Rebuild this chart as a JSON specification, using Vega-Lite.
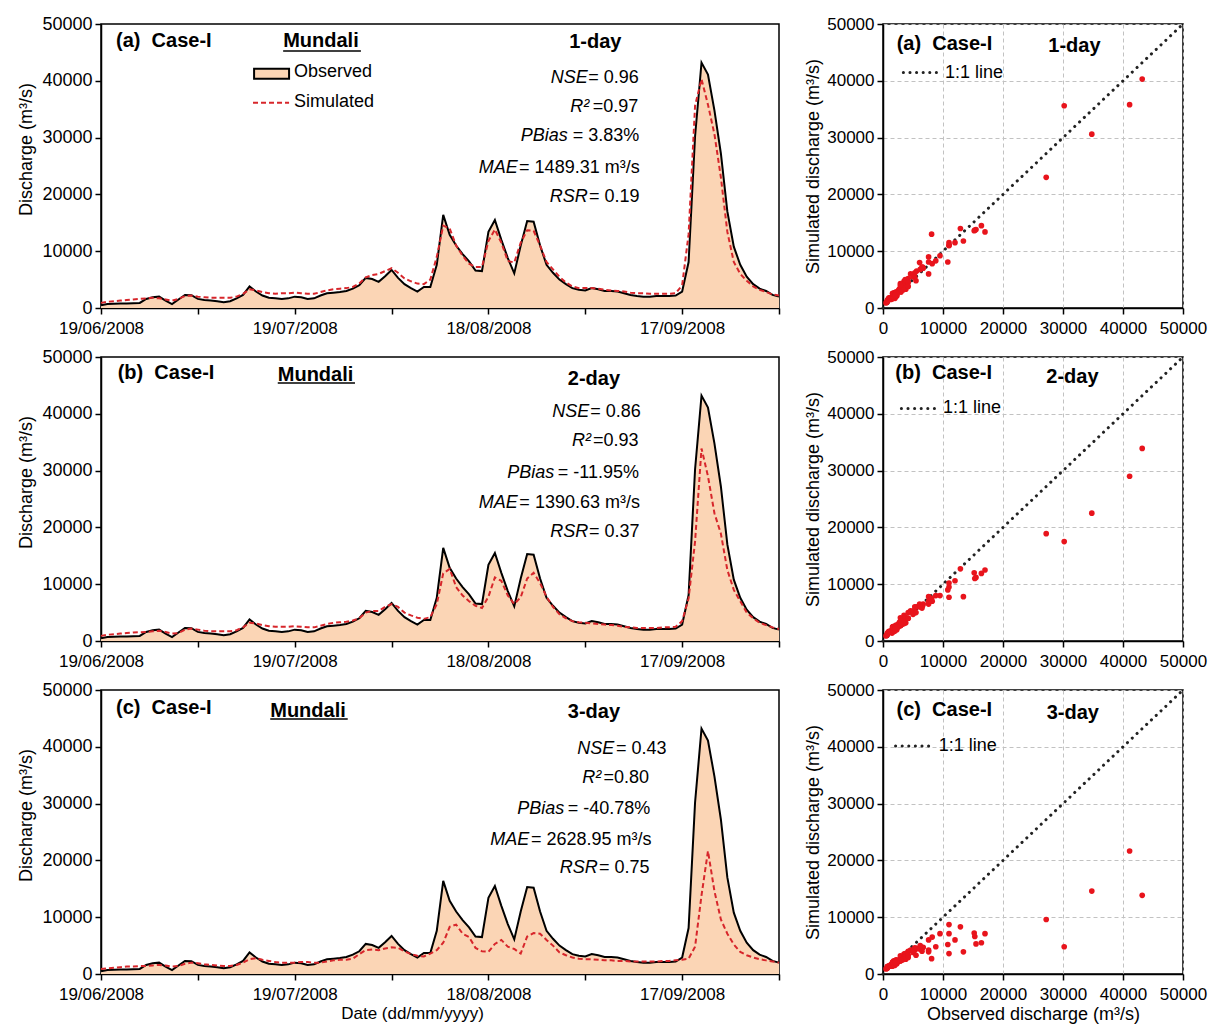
{
"$schema": "https://vega.github.io/schema/vega-lite/v6.json",
"padding": {"left": 17, "top": 14, "right": 2, "bottom": 2},
"background": "white",
"config": {
  "font": "Liberation Sans",
  "view": {"stroke": "black", "strokeWidth": 1.5},
  "axis": {"labelFont": "Liberation Sans", "titleFont": "Liberation Sans", "labelColor": "black", "titleColor": "black", "domainColor": "black", "tickColor": "black", "domainWidth": 1.5, "tickWidth": 1.5, "tickSize": 6, "labelFontSize": 17, "titleFontSize": 18, "titleFontWeight": "normal", "grid": false, "labelPadding": 3, "labelOverlap": false, "labelFlush": false},
  "axisX": {"labelPadding": 6},
  "text": {"font": "Liberation Sans", "color": "black"}
},
"datasets": {
  "series": [
    {"date":"2008-06-19","obs":500,"s1":900,"s2":900,"s3":900},
    {"date":"2008-06-20","obs":700,"s1":1100,"s2":1100,"s3":1000},
    {"date":"2008-06-21","obs":750,"s1":1200,"s2":1200,"s3":1100},
    {"date":"2008-06-22","obs":800,"s1":1300,"s2":1300,"s3":1200},
    {"date":"2008-06-23","obs":800,"s1":1400,"s2":1400,"s3":1300},
    {"date":"2008-06-24","obs":850,"s1":1500,"s2":1500,"s3":1300},
    {"date":"2008-06-25","obs":900,"s1":1600,"s2":1550,"s3":1400},
    {"date":"2008-06-26","obs":1600,"s1":1700,"s2":1600,"s3":1400},
    {"date":"2008-06-27","obs":1900,"s1":1800,"s2":1700,"s3":1500},
    {"date":"2008-06-28","obs":2000,"s1":1700,"s2":1800,"s3":1600},
    {"date":"2008-06-29","obs":1300,"s1":1500,"s2":1600,"s3":1500},
    {"date":"2008-06-30","obs":700,"s1":1300,"s2":1300,"s3":1300},
    {"date":"2008-07-01","obs":1500,"s1":1600,"s2":1400,"s3":1400},
    {"date":"2008-07-02","obs":2300,"s1":2100,"s2":2000,"s3":1800},
    {"date":"2008-07-03","obs":2250,"s1":2200,"s2":2200,"s3":2000},
    {"date":"2008-07-04","obs":1600,"s1":2000,"s2":2000,"s3":1900},
    {"date":"2008-07-05","obs":1400,"s1":1900,"s2":1800,"s3":1700},
    {"date":"2008-07-06","obs":1300,"s1":1800,"s2":1700,"s3":1600},
    {"date":"2008-07-07","obs":1200,"s1":1800,"s2":1700,"s3":1500},
    {"date":"2008-07-08","obs":1000,"s1":1800,"s2":1700,"s3":1400},
    {"date":"2008-07-09","obs":1200,"s1":1800,"s2":1700,"s3":1400},
    {"date":"2008-07-10","obs":1700,"s1":2000,"s2":1900,"s3":1600},
    {"date":"2008-07-11","obs":2300,"s1":2500,"s2":2400,"s3":2000},
    {"date":"2008-07-12","obs":3800,"s1":3300,"s2":3200,"s3":2600},
    {"date":"2008-07-13","obs":2900,"s1":3100,"s2":3100,"s3":2800},
    {"date":"2008-07-14","obs":2200,"s1":2800,"s2":2800,"s3":2500},
    {"date":"2008-07-15","obs":1800,"s1":2600,"s2":2600,"s3":2300},
    {"date":"2008-07-16","obs":1700,"s1":2500,"s2":2500,"s3":2100},
    {"date":"2008-07-17","obs":1600,"s1":2600,"s2":2500,"s3":2000},
    {"date":"2008-07-18","obs":1700,"s1":2600,"s2":2500,"s3":2000},
    {"date":"2008-07-19","obs":2000,"s1":2700,"s2":2600,"s3":2000},
    {"date":"2008-07-20","obs":1900,"s1":2600,"s2":2500,"s3":2100},
    {"date":"2008-07-21","obs":1600,"s1":2500,"s2":2400,"s3":2100},
    {"date":"2008-07-22","obs":1700,"s1":2500,"s2":2400,"s3":2000},
    {"date":"2008-07-23","obs":2200,"s1":2800,"s2":2700,"s3":2000},
    {"date":"2008-07-24","obs":2600,"s1":3100,"s2":3000,"s3":2200},
    {"date":"2008-07-25","obs":2700,"s1":3300,"s2":3200,"s3":2400},
    {"date":"2008-07-26","obs":2800,"s1":3400,"s2":3300,"s3":2500},
    {"date":"2008-07-27","obs":3000,"s1":3500,"s2":3400,"s3":2500},
    {"date":"2008-07-28","obs":3400,"s1":3700,"s2":3600,"s3":2700},
    {"date":"2008-07-29","obs":4000,"s1":4300,"s2":4000,"s3":3500},
    {"date":"2008-07-30","obs":5300,"s1":5400,"s2":5000,"s3":4200},
    {"date":"2008-07-31","obs":5100,"s1":5800,"s2":5300,"s3":4300},
    {"date":"2008-08-01","obs":4600,"s1":6000,"s2":5300,"s3":4200},
    {"date":"2008-08-02","obs":5600,"s1":6500,"s2":6000,"s3":4500},
    {"date":"2008-08-03","obs":6700,"s1":7000,"s2":6500,"s3":4700},
    {"date":"2008-08-04","obs":5300,"s1":6200,"s2":6000,"s3":4600},
    {"date":"2008-08-05","obs":4200,"s1":5200,"s2":5000,"s3":4000},
    {"date":"2008-08-06","obs":3500,"s1":4700,"s2":4500,"s3":3500},
    {"date":"2008-08-07","obs":2900,"s1":4300,"s2":4100,"s3":3200},
    {"date":"2008-08-08","obs":3700,"s1":4200,"s2":3900,"s3":3100},
    {"date":"2008-08-09","obs":3700,"s1":5000,"s2":4200,"s3":3600},
    {"date":"2008-08-10","obs":7600,"s1":9000,"s2":6500,"s3":4200},
    {"date":"2008-08-11","obs":16400,"s1":14500,"s2":11900,"s3":5500},
    {"date":"2008-08-12","obs":12900,"s1":14000,"s2":12700,"s3":8300},
    {"date":"2008-08-13","obs":11000,"s1":11000,"s2":9500,"s3":8700},
    {"date":"2008-08-14","obs":9500,"s1":9200,"s2":8000,"s3":7100},
    {"date":"2008-08-15","obs":8200,"s1":7800,"s2":7000,"s3":6500},
    {"date":"2008-08-16","obs":6600,"s1":7200,"s2":6200,"s3":4600},
    {"date":"2008-08-17","obs":6500,"s1":7200,"s2":5800,"s3":4000},
    {"date":"2008-08-18","obs":13400,"s1":11800,"s2":7800,"s3":3900},
    {"date":"2008-08-19","obs":15500,"s1":13800,"s2":11200,"s3":5300},
    {"date":"2008-08-20","obs":12000,"s1":11500,"s2":10600,"s3":6000},
    {"date":"2008-08-21","obs":8800,"s1":8300,"s2":8000,"s3":4800},
    {"date":"2008-08-22","obs":6100,"s1":8000,"s2":6500,"s3":4400},
    {"date":"2008-08-23","obs":11000,"s1":11500,"s2":7700,"s3":3600},
    {"date":"2008-08-24","obs":15300,"s1":13700,"s2":11000,"s3":6600},
    {"date":"2008-08-25","obs":15200,"s1":13600,"s2":12000,"s3":7200},
    {"date":"2008-08-26","obs":11000,"s1":11000,"s2":10200,"s3":7100},
    {"date":"2008-08-27","obs":7600,"s1":8100,"s2":7800,"s3":6000},
    {"date":"2008-08-28","obs":6200,"s1":6800,"s2":6000,"s3":5000},
    {"date":"2008-08-29","obs":5000,"s1":5500,"s2":4700,"s3":3800},
    {"date":"2008-08-30","obs":4200,"s1":4500,"s2":4000,"s3":3300},
    {"date":"2008-08-31","obs":3500,"s1":3800,"s2":3500,"s3":2900},
    {"date":"2008-09-01","obs":3200,"s1":3500,"s2":3300,"s3":2700},
    {"date":"2008-09-02","obs":3100,"s1":3500,"s2":3200,"s3":2600},
    {"date":"2008-09-03","obs":3500,"s1":3500,"s2":3100,"s3":2600},
    {"date":"2008-09-04","obs":3300,"s1":3400,"s2":3000,"s3":2500},
    {"date":"2008-09-05","obs":3000,"s1":3200,"s2":2900,"s3":2400},
    {"date":"2008-09-06","obs":3000,"s1":3100,"s2":2800,"s3":2400},
    {"date":"2008-09-07","obs":2900,"s1":3000,"s2":2700,"s3":2300},
    {"date":"2008-09-08","obs":2600,"s1":2900,"s2":2500,"s3":2300},
    {"date":"2008-09-09","obs":2300,"s1":2700,"s2":2400,"s3":2200},
    {"date":"2008-09-10","obs":2100,"s1":2600,"s2":2300,"s3":2200},
    {"date":"2008-09-11","obs":2000,"s1":2600,"s2":2300,"s3":2200},
    {"date":"2008-09-12","obs":2000,"s1":2500,"s2":2300,"s3":2200},
    {"date":"2008-09-13","obs":2100,"s1":2500,"s2":2300,"s3":2200},
    {"date":"2008-09-14","obs":2100,"s1":2500,"s2":2400,"s3":2300},
    {"date":"2008-09-15","obs":2100,"s1":2500,"s2":2400,"s3":2300},
    {"date":"2008-09-16","obs":2200,"s1":2600,"s2":2500,"s3":2400},
    {"date":"2008-09-17","obs":2900,"s1":4000,"s2":3500,"s3":2500},
    {"date":"2008-09-18","obs":8100,"s1":13000,"s2":7500,"s3":2700},
    {"date":"2008-09-19","obs":30200,"s1":35600,"s2":17500,"s3":4800},
    {"date":"2008-09-20","obs":43200,"s1":40300,"s2":33900,"s3":13850},
    {"date":"2008-09-21","obs":41100,"s1":35800,"s2":29000,"s3":21650},
    {"date":"2008-09-22","obs":34800,"s1":30600,"s2":22500,"s3":14600},
    {"date":"2008-09-23","obs":27200,"s1":23000,"s2":18900,"s3":9600},
    {"date":"2008-09-24","obs":17000,"s1":13400,"s2":12500,"s3":7100},
    {"date":"2008-09-25","obs":10800,"s1":8100,"s2":9000,"s3":5200},
    {"date":"2008-09-26","obs":7600,"s1":6000,"s2":7000,"s3":3900},
    {"date":"2008-09-27","obs":5500,"s1":4800,"s2":5000,"s3":3300},
    {"date":"2008-09-28","obs":4200,"s1":3800,"s2":4000,"s3":2900},
    {"date":"2008-09-29","obs":3400,"s1":3200,"s2":3200,"s3":2600},
    {"date":"2008-09-30","obs":3000,"s1":2800,"s2":2800,"s3":2400},
    {"date":"2008-10-01","obs":2300,"s1":2400,"s2":2400,"s3":2200},
    {"date":"2008-10-02","obs":2000,"s1":2200,"s2":2100,"s3":2000}
  ],
  "tsnotes": [
    {"panel":"a","kind":"bold","date":"2008-06-21T08:00:00Z","value":47020,"text":"(a)\u00a0 Case-I"},
    {"panel":"a","kind":"bold","date":"2008-07-17T05:00:00Z","value":47020,"text":"Mundali"},
    {"panel":"a","kind":"bold","date":"2008-08-30T12:00:00Z","value":46840,"text":"1-day"},
    {"panel":"b","kind":"bold","date":"2008-06-21T14:00:00Z","value":47100,"text":"(b)\u00a0 Case-I"},
    {"panel":"b","kind":"bold","date":"2008-07-16T09:00:00Z","value":46800,"text":"Mundali"},
    {"panel":"b","kind":"bold","date":"2008-08-30T07:00:00Z","value":46200,"text":"2-day"},
    {"panel":"c","kind":"bold","date":"2008-06-21T08:00:00Z","value":46770,"text":"(c)\u00a0 Case-I"},
    {"panel":"c","kind":"bold","date":"2008-07-15T05:00:00Z","value":46290,"text":"Mundali"},
    {"panel":"c","kind":"bold","date":"2008-08-30T07:00:00Z","value":46170,"text":"3-day"},
    {"panel":"a","kind":"ital","date":"2008-09-02T09:00:00Z","value":40530,"text":"NSE"},
    {"panel":"a","kind":"ital","date":"2008-09-02T15:00:00Z","value":35440,"text":"R²"},
    {"panel":"a","kind":"ital","date":"2008-08-30T07:00:00Z","value":30230,"text":"PBias"},
    {"panel":"a","kind":"ital","date":"2008-08-22T13:00:00Z","value":24560,"text":"MAE"},
    {"panel":"a","kind":"ital","date":"2008-09-02T09:00:00Z","value":19470,"text":"RSR"},
    {"panel":"b","kind":"ital","date":"2008-09-02T15:00:00Z","value":40270,"text":"NSE"},
    {"panel":"b","kind":"ital","date":"2008-09-02T21:00:00Z","value":35230,"text":"R²"},
    {"panel":"b","kind":"ital","date":"2008-08-28T05:00:00Z","value":29600,"text":"PBias"},
    {"panel":"b","kind":"ital","date":"2008-08-22T13:00:00Z","value":24250,"text":"MAE"},
    {"panel":"b","kind":"ital","date":"2008-09-02T11:00:00Z","value":19220,"text":"RSR"},
    {"panel":"c","kind":"ital","date":"2008-09-06T12:00:00Z","value":39700,"text":"NSE"},
    {"panel":"c","kind":"ital","date":"2008-09-04T11:00:00Z","value":34570,"text":"R²"},
    {"panel":"c","kind":"ital","date":"2008-08-29T18:00:00Z","value":29100,"text":"PBias"},
    {"panel":"c","kind":"ital","date":"2008-08-24T08:00:00Z","value":23670,"text":"MAE"},
    {"panel":"c","kind":"ital","date":"2008-09-03T22:00:00Z","value":18600,"text":"RSR"},
    {"panel":"a","kind":"plain","date":"2008-09-02T11:00:00Z","value":40530,"text":"= 0.96"},
    {"panel":"a","kind":"plain","date":"2008-09-03T04:00:00Z","value":35440,"text":"=0.97"},
    {"panel":"a","kind":"plain","date":"2008-08-31T01:00:00Z","value":30230,"text":"= 3.83%"},
    {"panel":"a","kind":"plain","date":"2008-08-22T18:00:00Z","value":24560,"text":"= 1489.31 m³/s"},
    {"panel":"a","kind":"plain","date":"2008-09-02T14:00:00Z","value":19470,"text":"= 0.19"},
    {"panel":"a","kind":"plain","date":"2008-07-18T21:00:00Z","value":41580,"text":"Observed"},
    {"panel":"a","kind":"plain","date":"2008-07-18T21:00:00Z","value":36320,"text":"Simulated"},
    {"panel":"b","kind":"plain","date":"2008-09-02T18:00:00Z","value":40270,"text":"= 0.86"},
    {"panel":"b","kind":"plain","date":"2008-09-03T05:00:00Z","value":35230,"text":"=0.93"},
    {"panel":"b","kind":"plain","date":"2008-08-28T18:00:00Z","value":29600,"text":"= -11.95%"},
    {"panel":"b","kind":"plain","date":"2008-08-22T19:00:00Z","value":24250,"text":"= 1390.63 m³/s"},
    {"panel":"b","kind":"plain","date":"2008-09-02T14:00:00Z","value":19220,"text":"= 0.37"},
    {"panel":"c","kind":"plain","date":"2008-09-06T18:00:00Z","value":39700,"text":"= 0.43"},
    {"panel":"c","kind":"plain","date":"2008-09-04T20:00:00Z","value":34570,"text":"=0.80"},
    {"panel":"c","kind":"plain","date":"2008-08-30T07:00:00Z","value":29100,"text":"= -40.78%"},
    {"panel":"c","kind":"plain","date":"2008-08-24T14:00:00Z","value":23670,"text":"= 2628.95 m³/s"},
    {"panel":"c","kind":"plain","date":"2008-09-04T03:00:00Z","value":18600,"text":"= 0.75"}
  ],
  "tsshapes": [
    {"panel":"a","kind":"underline","date":"2008-07-17T05:00:00Z","date2":"2008-07-29T06:00:00Z","value":45260,"value2":45260},
    {"panel":"b","kind":"underline","date":"2008-07-16T09:00:00Z","date2":"2008-07-28T08:00:00Z","value":45430,"value2":45430},
    {"panel":"c","kind":"underline","date":"2008-07-15T05:00:00Z","date2":"2008-07-27T05:00:00Z","value":44880,"value2":44880},
    {"panel":"a","kind":"obsbox","date":"2008-07-12T17:00:00Z","date2":"2008-07-18T03:00:00Z","value":42100,"value2":40350},
    {"panel":"a","kind":"simline","date":"2008-07-12T13:00:00Z","date2":"2008-07-18T03:00:00Z","value":36140,"value2":36140}
  ],
  "scnotes": [
    {"panel":"a","kind":"bold","obs":2280,"obs2":2280,"sim":46440,"text":"(a)\u00a0 Case-I"},
    {"panel":"a","kind":"bold","obs":27550,"obs2":27550,"sim":46140,"text":"1-day"},
    {"panel":"a","kind":"plain","obs":10330,"obs2":10330,"sim":41460,"text":"1:1 line"},
    {"panel":"a","kind":"dots","obs":3390,"obs2":9220,"sim":41460,"text":""},
    {"panel":"b","kind":"bold","obs":2060,"obs2":2060,"sim":47120,"text":"(b)\u00a0 Case-I"},
    {"panel":"b","kind":"bold","obs":27220,"obs2":27220,"sim":46520,"text":"2-day"},
    {"panel":"b","kind":"plain","obs":10000,"obs2":10000,"sim":40940,"text":"1:1 line"},
    {"panel":"b","kind":"dots","obs":3060,"obs2":9170,"sim":40940,"text":""},
    {"panel":"c","kind":"bold","obs":2260,"obs2":2260,"sim":46430,"text":"(c)\u00a0 Case-I"},
    {"panel":"c","kind":"bold","obs":27290,"obs2":27290,"sim":46000,"text":"3-day"},
    {"panel":"c","kind":"plain","obs":9300,"obs2":9300,"sim":40140,"text":"1:1 line"},
    {"panel":"c","kind":"dots","obs":2090,"obs2":8470,"sim":40140,"text":""}
  ],
  "oneone": [{"obs":0,"sim":0},{"obs":50000,"sim":50000}]
},
"spacing": 10,
"vconcat": [
  {"spacing": 19, "hconcat": [
    {"width": 678, "height": 284,
     "encoding": {
       "x": {"field": "date", "type": "temporal",
        "scale": {"type": "utc", "domain": [{"year":2008,"month":6,"date":19,"utc":true},{"year":2008,"month":10,"date":2,"utc":true}]},
        "axis": {"title": null, "format": "%d/%m/%Y",
          "values": [{"year":2008,"month":6,"date":19,"utc":true},{"year":2008,"month":7,"date":4,"utc":true},{"year":2008,"month":7,"date":19,"utc":true},{"year":2008,"month":8,"date":3,"utc":true},{"year":2008,"month":8,"date":18,"utc":true},{"year":2008,"month":9,"date":2,"utc":true},{"year":2008,"month":9,"date":17,"utc":true},{"year":2008,"month":10,"date":2,"utc":true}],
          "labelExpr": "indexof(['19/06/2008','19/07/2008','18/08/2008','17/09/2008'], datum.label) >= 0 ? datum.label : ''"}},
       "y": {"field": "value", "type": "quantitative", "scale": {"domain": [0, 50000], "nice": false},
          "axis": {"values": [0,10000,20000,30000,40000,50000], "format": "d", "labelFontSize": 18, "title": "Discharge (m³/s)", "titleY": 125, "titlePadding": 6}}},
     "layer": [
       {"data": {"name": "series"}, "mark": {"type": "area", "color": "#fbd5b5"}, "encoding": {"y": {"field": "obs"}}},
       {"data": {"name": "series"}, "mark": {"type": "line", "color": "black", "strokeWidth": 2}, "encoding": {"y": {"field": "obs"}}},
       {"data": {"name": "series"}, "mark": {"type": "line", "color": "#d7262b", "strokeWidth": 2, "strokeDash": [5, 3]}, "encoding": {"y": {"field": "s1"}}},
       {"data": {"name": "tsshapes"}, "transform": [{"filter": "datum.panel == 'a' && datum.kind == 'underline'"}],
        "mark": {"type": "rule", "color": "black", "strokeWidth": 1.5}, "encoding": {"x2": {"field": "date2"}}},
       {"data": {"name": "tsshapes"}, "transform": [{"filter": "datum.panel == 'a' && datum.kind == 'obsbox'"}],
        "mark": {"type": "rect", "fill": "#fbd5b5", "stroke": "black", "strokeWidth": 2}, "encoding": {"x2": {"field": "date2"}, "y2": {"field": "value2"}}},
       {"data": {"name": "tsshapes"}, "transform": [{"filter": "datum.panel == 'a' && datum.kind == 'simline'"}],
        "mark": {"type": "rule", "color": "#d7262b", "strokeWidth": 2, "strokeDash": [5, 3]}, "encoding": {"x2": {"field": "date2"}}},
       {"data": {"name": "tsnotes"}, "transform": [{"filter": "datum.panel == 'a' && datum.kind == 'bold'"}],
        "mark": {"type": "text", "align": "left", "baseline": "middle", "fontWeight": "bold", "fontSize": 20}, "encoding": {"text": {"field": "text"}}},
       {"data": {"name": "tsnotes"}, "transform": [{"filter": "datum.panel == 'a' && datum.kind == 'ital'"}],
        "mark": {"type": "text", "align": "right", "baseline": "middle", "fontStyle": "italic", "fontSize": 18}, "encoding": {"text": {"field": "text"}}},
       {"data": {"name": "tsnotes"}, "transform": [{"filter": "datum.panel == 'a' && datum.kind == 'plain'"}],
        "mark": {"type": "text", "align": "left", "baseline": "middle", "fontSize": 18}, "encoding": {"text": {"field": "text"}}}
     ]},
    {"width": 300, "height": 284,
     "encoding": {
       "x": {"field": "obs", "type": "quantitative", "scale": {"domain": [0, 50000], "nice": false},
         "axis": {"values": [0,10000,20000,30000,40000,50000], "format": "d", "title": null, "grid": true, "gridDash": [4, 3], "gridColor": "#c2c2c2"}},
       "y": {"field": "sim", "type": "quantitative", "scale": {"domain": [0, 50000], "nice": false},
         "axis": {"values": [0,10000,20000,30000,40000,50000], "format": "d", "title": "Simulated discharge (m³/s)", "titlePadding": 4, "grid": true, "gridDash": [4, 3], "gridColor": "#c2c2c2"}}},
     "layer": [
       {"data": {"name": "oneone"}, "mark": {"type": "line", "color": "#222222", "strokeWidth": 3, "strokeDash": [0.1, 6.5], "strokeCap": "round"}, "encoding": {}},
       {"data": {"name": "series"}, "mark": {"type": "circle", "color": "#e8141c", "opacity": 1, "size": 32}, "encoding": {"y": {"field": "s1"}}},
       {"data": {"name": "scnotes"}, "transform": [{"filter": "datum.panel == 'a' && datum.kind == 'dots'"}],
        "mark": {"type": "rule", "color": "#222222", "strokeWidth": 3, "strokeDash": [0.1, 6.5], "strokeCap": "round"}, "encoding": {"x2": {"field": "obs2"}}},
       {"data": {"name": "scnotes"}, "transform": [{"filter": "datum.panel == 'a' && datum.kind == 'bold'"}],
        "mark": {"type": "text", "align": "left", "baseline": "middle", "fontWeight": "bold", "fontSize": 20}, "encoding": {"text": {"field": "text"}}},
       {"data": {"name": "scnotes"}, "transform": [{"filter": "datum.panel == 'a' && datum.kind == 'plain'"}],
        "mark": {"type": "text", "align": "left", "baseline": "middle", "fontSize": 18}, "encoding": {"text": {"field": "text"}}}
     ]}
  ]},
  {"spacing": 19, "hconcat": [
    {"width": 678, "height": 284,
     "encoding": {
       "x": {"field": "date", "type": "temporal",
        "scale": {"type": "utc", "domain": [{"year":2008,"month":6,"date":19,"utc":true},{"year":2008,"month":10,"date":2,"utc":true}]},
        "axis": {"title": null, "format": "%d/%m/%Y",
          "values": [{"year":2008,"month":6,"date":19,"utc":true},{"year":2008,"month":7,"date":4,"utc":true},{"year":2008,"month":7,"date":19,"utc":true},{"year":2008,"month":8,"date":3,"utc":true},{"year":2008,"month":8,"date":18,"utc":true},{"year":2008,"month":9,"date":2,"utc":true},{"year":2008,"month":9,"date":17,"utc":true},{"year":2008,"month":10,"date":2,"utc":true}],
          "labelExpr": "indexof(['19/06/2008','19/07/2008','18/08/2008','17/09/2008'], datum.label) >= 0 ? datum.label : ''"}},
       "y": {"field": "value", "type": "quantitative", "scale": {"domain": [0, 50000], "nice": false},
          "axis": {"values": [0,10000,20000,30000,40000,50000], "format": "d", "labelFontSize": 18, "title": "Discharge (m³/s)", "titleY": 125, "titlePadding": 6}}},
     "layer": [
       {"data": {"name": "series"}, "mark": {"type": "area", "color": "#fbd5b5"}, "encoding": {"y": {"field": "obs"}}},
       {"data": {"name": "series"}, "mark": {"type": "line", "color": "black", "strokeWidth": 2}, "encoding": {"y": {"field": "obs"}}},
       {"data": {"name": "series"}, "mark": {"type": "line", "color": "#d7262b", "strokeWidth": 2, "strokeDash": [5, 3]}, "encoding": {"y": {"field": "s2"}}},
       {"data": {"name": "tsshapes"}, "transform": [{"filter": "datum.panel == 'b' && datum.kind == 'underline'"}],
        "mark": {"type": "rule", "color": "black", "strokeWidth": 1.5}, "encoding": {"x2": {"field": "date2"}}},
       {"data": {"name": "tsnotes"}, "transform": [{"filter": "datum.panel == 'b' && datum.kind == 'bold'"}],
        "mark": {"type": "text", "align": "left", "baseline": "middle", "fontWeight": "bold", "fontSize": 20}, "encoding": {"text": {"field": "text"}}},
       {"data": {"name": "tsnotes"}, "transform": [{"filter": "datum.panel == 'b' && datum.kind == 'ital'"}],
        "mark": {"type": "text", "align": "right", "baseline": "middle", "fontStyle": "italic", "fontSize": 18}, "encoding": {"text": {"field": "text"}}},
       {"data": {"name": "tsnotes"}, "transform": [{"filter": "datum.panel == 'b' && datum.kind == 'plain'"}],
        "mark": {"type": "text", "align": "left", "baseline": "middle", "fontSize": 18}, "encoding": {"text": {"field": "text"}}}
     ]},
    {"width": 300, "height": 284,
     "encoding": {
       "x": {"field": "obs", "type": "quantitative", "scale": {"domain": [0, 50000], "nice": false},
         "axis": {"values": [0,10000,20000,30000,40000,50000], "format": "d", "title": null, "grid": true, "gridDash": [4, 3], "gridColor": "#c2c2c2"}},
       "y": {"field": "sim", "type": "quantitative", "scale": {"domain": [0, 50000], "nice": false},
         "axis": {"values": [0,10000,20000,30000,40000,50000], "format": "d", "title": "Simulated discharge (m³/s)", "titlePadding": 4, "grid": true, "gridDash": [4, 3], "gridColor": "#c2c2c2"}}},
     "layer": [
       {"data": {"name": "oneone"}, "mark": {"type": "line", "color": "#222222", "strokeWidth": 3, "strokeDash": [0.1, 6.5], "strokeCap": "round"}, "encoding": {}},
       {"data": {"name": "series"}, "mark": {"type": "circle", "color": "#e8141c", "opacity": 1, "size": 32}, "encoding": {"y": {"field": "s2"}}},
       {"data": {"name": "scnotes"}, "transform": [{"filter": "datum.panel == 'b' && datum.kind == 'dots'"}],
        "mark": {"type": "rule", "color": "#222222", "strokeWidth": 3, "strokeDash": [0.1, 6.5], "strokeCap": "round"}, "encoding": {"x2": {"field": "obs2"}}},
       {"data": {"name": "scnotes"}, "transform": [{"filter": "datum.panel == 'b' && datum.kind == 'bold'"}],
        "mark": {"type": "text", "align": "left", "baseline": "middle", "fontWeight": "bold", "fontSize": 20}, "encoding": {"text": {"field": "text"}}},
       {"data": {"name": "scnotes"}, "transform": [{"filter": "datum.panel == 'b' && datum.kind == 'plain'"}],
        "mark": {"type": "text", "align": "left", "baseline": "middle", "fontSize": 18}, "encoding": {"text": {"field": "text"}}}
     ]}
  ]},
  {"spacing": 19, "hconcat": [
    {"width": 678, "height": 284,
     "encoding": {
       "x": {"field": "date", "type": "temporal",
        "scale": {"type": "utc", "domain": [{"year":2008,"month":6,"date":19,"utc":true},{"year":2008,"month":10,"date":2,"utc":true}]},
        "axis": {"title": "Date (dd/mm/yyyy)", "titleX": 311, "titlePadding": 3, "titleFontSize": 17, "format": "%d/%m/%Y",
          "values": [{"year":2008,"month":6,"date":19,"utc":true},{"year":2008,"month":7,"date":4,"utc":true},{"year":2008,"month":7,"date":19,"utc":true},{"year":2008,"month":8,"date":3,"utc":true},{"year":2008,"month":8,"date":18,"utc":true},{"year":2008,"month":9,"date":2,"utc":true},{"year":2008,"month":9,"date":17,"utc":true},{"year":2008,"month":10,"date":2,"utc":true}],
          "labelExpr": "indexof(['19/06/2008','19/07/2008','18/08/2008','17/09/2008'], datum.label) >= 0 ? datum.label : ''"}},
       "y": {"field": "value", "type": "quantitative", "scale": {"domain": [0, 50000], "nice": false},
          "axis": {"values": [0,10000,20000,30000,40000,50000], "format": "d", "labelFontSize": 18, "title": "Discharge (m³/s)", "titleY": 125, "titlePadding": 6}}},
     "layer": [
       {"data": {"name": "series"}, "mark": {"type": "area", "color": "#fbd5b5"}, "encoding": {"y": {"field": "obs"}}},
       {"data": {"name": "series"}, "mark": {"type": "line", "color": "black", "strokeWidth": 2}, "encoding": {"y": {"field": "obs"}}},
       {"data": {"name": "series"}, "mark": {"type": "line", "color": "#d7262b", "strokeWidth": 2, "strokeDash": [5, 3]}, "encoding": {"y": {"field": "s3"}}},
       {"data": {"name": "tsshapes"}, "transform": [{"filter": "datum.panel == 'c' && datum.kind == 'underline'"}],
        "mark": {"type": "rule", "color": "black", "strokeWidth": 1.5}, "encoding": {"x2": {"field": "date2"}}},
       {"data": {"name": "tsnotes"}, "transform": [{"filter": "datum.panel == 'c' && datum.kind == 'bold'"}],
        "mark": {"type": "text", "align": "left", "baseline": "middle", "fontWeight": "bold", "fontSize": 20}, "encoding": {"text": {"field": "text"}}},
       {"data": {"name": "tsnotes"}, "transform": [{"filter": "datum.panel == 'c' && datum.kind == 'ital'"}],
        "mark": {"type": "text", "align": "right", "baseline": "middle", "fontStyle": "italic", "fontSize": 18}, "encoding": {"text": {"field": "text"}}},
       {"data": {"name": "tsnotes"}, "transform": [{"filter": "datum.panel == 'c' && datum.kind == 'plain'"}],
        "mark": {"type": "text", "align": "left", "baseline": "middle", "fontSize": 18}, "encoding": {"text": {"field": "text"}}}
     ]},
    {"width": 300, "height": 284,
     "encoding": {
       "x": {"field": "obs", "type": "quantitative", "scale": {"domain": [0, 50000], "nice": false},
         "axis": {"values": [0,10000,20000,30000,40000,50000], "format": "d", "title": "Observed discharge (m³/s)", "titlePadding": 3, "grid": true, "gridDash": [4, 3], "gridColor": "#c2c2c2"}},
       "y": {"field": "sim", "type": "quantitative", "scale": {"domain": [0, 50000], "nice": false},
         "axis": {"values": [0,10000,20000,30000,40000,50000], "format": "d", "title": "Simulated discharge (m³/s)", "titlePadding": 4, "grid": true, "gridDash": [4, 3], "gridColor": "#c2c2c2"}}},
     "layer": [
       {"data": {"name": "oneone"}, "mark": {"type": "line", "color": "#222222", "strokeWidth": 3, "strokeDash": [0.1, 6.5], "strokeCap": "round"}, "encoding": {}},
       {"data": {"name": "series"}, "mark": {"type": "circle", "color": "#e8141c", "opacity": 1, "size": 32}, "encoding": {"y": {"field": "s3"}}},
       {"data": {"name": "scnotes"}, "transform": [{"filter": "datum.panel == 'c' && datum.kind == 'dots'"}],
        "mark": {"type": "rule", "color": "#222222", "strokeWidth": 3, "strokeDash": [0.1, 6.5], "strokeCap": "round"}, "encoding": {"x2": {"field": "obs2"}}},
       {"data": {"name": "scnotes"}, "transform": [{"filter": "datum.panel == 'c' && datum.kind == 'bold'"}],
        "mark": {"type": "text", "align": "left", "baseline": "middle", "fontWeight": "bold", "fontSize": 20}, "encoding": {"text": {"field": "text"}}},
       {"data": {"name": "scnotes"}, "transform": [{"filter": "datum.panel == 'c' && datum.kind == 'plain'"}],
        "mark": {"type": "text", "align": "left", "baseline": "middle", "fontSize": 18}, "encoding": {"text": {"field": "text"}}}
     ]}
  ]}
]
}
